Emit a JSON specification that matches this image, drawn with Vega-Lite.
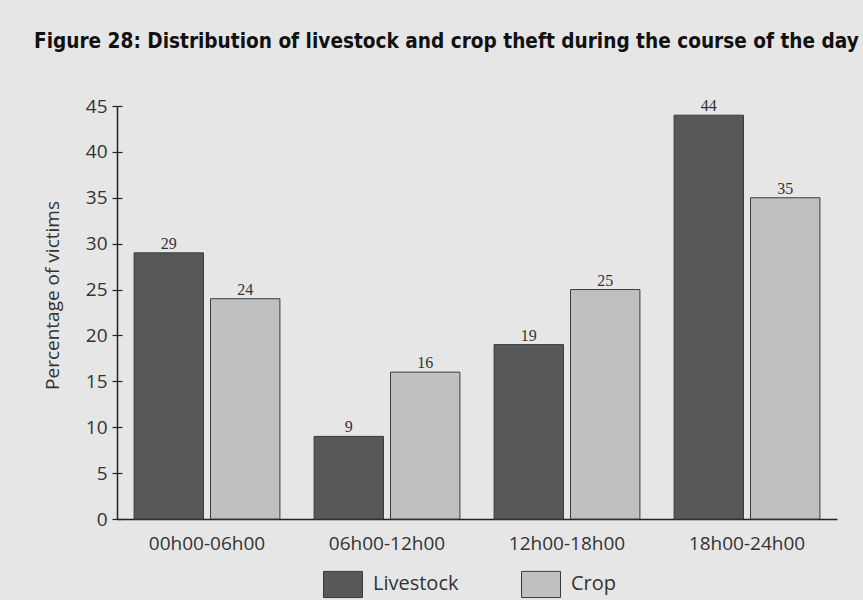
{
  "$schema": "https://vega.github.io/schema/vega-lite/v6.json",
  "autosize": "none",
  "width": 720,
  "height": 413,
  "padding": {"left": 117, "top": 106, "right": 26, "bottom": 81},
  "background": "#e6e6e6",
  "title": {
    "text": "Figure 28: Distribution of livestock and crop theft during the course of the day",
    "anchor": "start",
    "frame": "group",
    "dx": -83,
    "offset": 44,
    "font": "Liberation Sans Narrow, DejaVu Sans Condensed, sans-serif",
    "fontSize": 20.6,
    "fontWeight": "bold",
    "color": "#111111"
  },
  "data": {
    "values": [
      {"period": "00h00-06h00", "type": "Livestock", "value": 29},
      {"period": "00h00-06h00", "type": "Crop", "value": 24},
      {"period": "06h00-12h00", "type": "Livestock", "value": 9},
      {"period": "06h00-12h00", "type": "Crop", "value": 16},
      {"period": "12h00-18h00", "type": "Livestock", "value": 19},
      {"period": "12h00-18h00", "type": "Crop", "value": 25},
      {"period": "18h00-24h00", "type": "Livestock", "value": 44},
      {"period": "18h00-24h00", "type": "Crop", "value": 35}
    ]
  },
  "encoding": {
    "x": {
      "field": "period",
      "type": "nominal",
      "sort": null,
      "scale": {"paddingInner": 0.19, "paddingOuter": 0.095},
      "axis": {
        "title": null,
        "labelAngle": 0,
        "ticks": false,
        "labelPadding": 15,
        "labelFont": "Open Sans",
        "labelFontSize": 19,
        "labelColor": "#333333",
        "domainColor": "#222222",
        "domainWidth": 1.5
      }
    },
    "xOffset": {
      "field": "type",
      "type": "nominal",
      "sort": ["Livestock", "Crop"],
      "scale": {"paddingInner": 0.092}
    },
    "y": {
      "field": "value",
      "type": "quantitative",
      "scale": {"domain": [0, 45]}
    }
  },
  "layer": [
    {
      "mark": {"type": "bar", "stroke": "#3a3a3a", "strokeWidth": 1},
      "encoding": {
        "y": {
          "field": "value",
          "type": "quantitative",
          "scale": {"domain": [0, 45]},
          "axis": {
            "title": "Percentage of victims",
            "titleFont": "Open Sans",
            "titleFontSize": 19,
            "titleFontWeight": "normal",
            "titleColor": "#333333",
            "titleAngle": -90,
            "titleAlign": "center",
            "titleBaseline": "middle",
            "titleX": -65,
            "titleY": 189,
            "values": [0, 5, 10, 15, 20, 25, 30, 35, 40, 45],
            "grid": false,
            "tickSize": 5,
            "tickColor": "#222222",
            "tickWidth": 1.2,
            "domainColor": "#222222",
            "domainWidth": 1.5,
            "labelFont": "Open Sans",
            "labelFontSize": 19,
            "labelColor": "#333333",
            "labelPadding": 5
          }
        },
        "color": {
          "field": "type",
          "type": "nominal",
          "sort": ["Livestock", "Crop"],
          "scale": {"domain": ["Livestock", "Crop"], "range": ["#575859", "#bfc0c2"]},
          "legend": {
            "title": null,
            "orient": "none",
            "legendX": 206,
            "legendY": 458,
            "direction": "horizontal",
            "symbolType": "M-1,-0.67H1V0.67H-1Z",
            "symbolSize": 1521,
            "symbolStrokeColor": "#3a3a3a",
            "symbolStrokeWidth": 1,
            "labelFont": "Open Sans",
            "labelFontSize": 20,
            "labelColor": "#333333",
            "labelOffset": 10,
            "columnPadding": 60
          }
        }
      }
    },
    {
      "mark": {"type": "text", "baseline": "alphabetic", "dy": -4, "font": "Liberation Serif", "fontSize": 16, "color": "#333333"},
      "encoding": {
        "y": {
          "field": "value",
          "type": "quantitative",
          "scale": {"domain": [0, 45]},
          "axis": {
            "orient": "left",
            "title": null,
            "labels": false,
            "domain": false,
            "grid": false,
            "values": [0, 5, 10, 15, 20, 25, 30, 35, 40, 45],
            "tickSize": -5,
            "tickColor": "#222222",
            "tickWidth": 1.2
          }
        },
        "text": {"field": "value", "type": "quantitative"}
      }
    }
  ],
  "resolve": {"axis": {"y": "independent"}},
  "config": {"view": {"stroke": null}}
}
